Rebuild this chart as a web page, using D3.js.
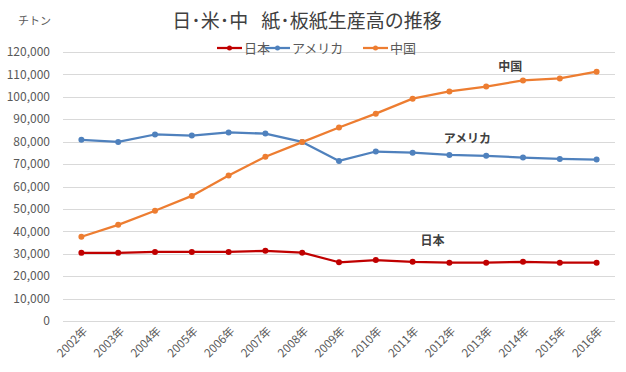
<!DOCTYPE html>
<html>
<head>
<meta charset="utf-8">
<script src="https://cdn.jsdelivr.net/npm/d3@7"></script>
<style>
  body { margin: 0; background: #fff; }
  svg { display: block; font-family: "Noto Sans CJK JP", "Noto Sans", sans-serif; }
</style>
</head>
<body>
<div id="chart"></div>
<script>
const years = ['2002年', '2003年', '2004年', '2005年', '2006年', '2007年', '2008年', '2009年',
  '2010年', '2011年', '2012年', '2013年', '2014年', '2015年', '2016年'];
const japan = [30400, 30400, 30800, 30800, 30800, 31300, 30500, 26200, 27200, 26400, 26000, 26000, 26400, 26000, 26000];
const america = [80800, 79900, 83200, 82700, 84100, 83600, 79900, 71400, 75600, 75100, 74100, 73700, 72900, 72300, 72000];
const china = [37600, 42900, 49200, 55800, 64900, 73300, 79800, 86300, 92500, 99200, 102400, 104600, 107300, 108200, 111200];
const seriesNames = ['日本', 'アメリカ', '中国'];
const seriesColors = ['#c00000', '#4f81bd', '#ed7d31'];
const yTicks = [0, 10000, 20000, 30000, 40000, 50000, 60000, 70000, 80000, 90000, 100000, 110000, 120000];

const W = 626, H = 372,
  pad = { top: 52, right: 11, bottom: 51, left: 63 },
  w = W - pad.left - pad.right,
  h = H - pad.top - pad.bottom;

const svg = d3.select('#chart').append('svg')
  .attr('width', W)
  .attr('height', H);

const x = d3.scaleBand().domain(years).range([0, w]);
const y = d3.scaleLinear().domain([0, 120000]).range([h, 0]);
const cx = function (d) { return x(d) + x.bandwidth() / 2; };

const g = svg.append('g')
  .attr('transform', 'translate(' + pad.left + ',' + pad.top + ')');

// gridlines
g.selectAll('line.grid')
  .data(yTicks)
  .enter().append('line')
  .attr('class', 'grid')
  .attr('x1', 0)
  .attr('x2', w)
  .attr('y1', function (d) { return Math.round(y(d)) + 0.5; })
  .attr('y2', function (d) { return Math.round(y(d)) + 0.5; })
  .attr('stroke', '#d9d9d9')
  .attr('stroke-width', 1);

// y labels
g.selectAll('text.ylab')
  .data(yTicks)
  .enter().append('text')
  .attr('class', 'ylab')
  .attr('x', -13)
  .attr('y', function (d) { return y(d); })
  .attr('dy', '0.35em')
  .attr('text-anchor', 'end')
  .attr('font-size', 12)
  .attr('fill', '#595959')
  .text(function (d) { return d3.format(',')(d); });

// x labels
g.selectAll('text.xlab')
  .data(years)
  .enter().append('text')
  .attr('class', 'xlab')
  .attr('transform', function (d) { return 'translate(' + (cx(d) + 4) + ',' + (h + 8) + ') rotate(-45)'; })
  .attr('text-anchor', 'end')
  .attr('dy', '0.35em')
  .attr('font-size', 11.5)
  .attr('fill', '#595959')
  .text(String);

// lines
const allSeries = [japan, america, china];
const line = d3.line()
  .x(function (d, i) { return cx(years[i]); })
  .y(function (d) { return y(d); });

allSeries.forEach(function (s, k) {
  g.append('path')
    .datum(s)
    .attr('fill', 'none')
    .attr('stroke', seriesColors[k])
    .attr('stroke-width', 2.25)
    .attr('stroke-linejoin', 'round')
    .attr('d', line);

  g.selectAll('circle.s' + k)
    .data(s)
    .enter().append('circle')
    .attr('class', 's' + k)
    .attr('cx', function (d, i) { return cx(years[i]); })
    .attr('cy', function (d) { return y(d); })
    .attr('r', 3)
    .attr('fill', seriesColors[k]);
});

// series labels on the plot
const seriesLabels = [
  { name: '日本', year: '2011年', dx: 20, value: 35600 },
  { name: 'アメリカ', year: '2012年', dx: 18, value: 81400 },
  { name: '中国', year: '2013年', dx: 24, value: 113400 }
];
g.selectAll('text.slab')
  .data(seriesLabels)
  .enter().append('text')
  .attr('class', 'slab')
  .attr('x', function (d) { return cx(d.year) + d.dx; })
  .attr('y', function (d) { return y(d.value); })
  .attr('dy', '0.35em')
  .attr('text-anchor', 'middle')
  .attr('font-size', 12)
  .attr('font-weight', 'bold')
  .attr('fill', '#404040')
  .text(function (d) { return d.name; });

// title (nbsp keeps the double gap)
svg.append('text')
  .attr('x', 307)
  .attr('y', 28)
  .attr('text-anchor', 'middle')
  .attr('font-size', 19)
  .attr('fill', '#404040')
  .text('日･米･中\u00a0\u00a0\u00a0紙･板紙生産高の推移');

// unit
svg.append('text')
  .attr('x', 18)
  .attr('y', 25)
  .attr('font-size', 11)
  .attr('fill', '#595959')
  .text('チトン');

// legend
const legendX = [217, 265, 363];
const leg = svg.selectAll('g.leg')
  .data(seriesNames)
  .enter().append('g')
  .attr('class', 'leg')
  .attr('transform', function (d, i) { return 'translate(' + legendX[i] + ',48)'; });
leg.append('line')
  .attr('x1', 0).attr('x2', 25)
  .attr('stroke', function (d, i) { return seriesColors[i]; })
  .attr('stroke-width', 2.25);
leg.append('circle')
  .attr('cx', 12.5)
  .attr('r', 2.5)
  .attr('fill', function (d, i) { return seriesColors[i]; });
leg.append('text')
  .attr('x', 27)
  .attr('dy', '0.35em')
  .attr('font-size', 13)
  .attr('fill', '#595959')
  .text(String);
</script>
</body>
</html>
